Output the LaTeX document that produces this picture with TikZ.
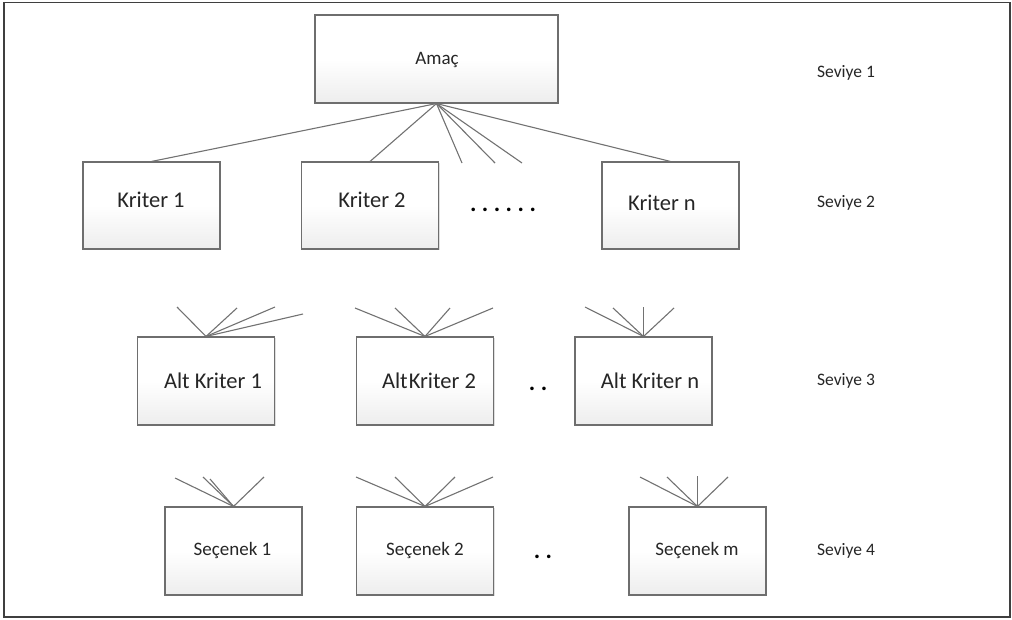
\documentclass[tikz,border=0pt]{standalone}
\usepackage{fontspec}
\setmainfont{Carlito}
\usetikzlibrary{shadows}
\definecolor{edge}{HTML}{6E6E6E}
\definecolor{wire}{HTML}{727272}
\definecolor{ink}{HTML}{262626}
\definecolor{frameline}{HTML}{3F3F3F}
\newcommand{\spdot}{\kern5.5pt.}
\tikzset{
  box/.style={draw=edge, line width=1.1pt, rectangle, inner sep=0pt,
    top color=white, bottom color=gray!14, middle color=white,
    drop shadow={opacity=0.25, shadow xshift=1.2pt, shadow yshift=-1.2pt},
    text=ink},
  goalbox/.style={box, minimum width=243pt, minimum height=88pt},
  critbox/.style={box, minimum width=137pt, minimum height=87pt},
  bigtxt/.style={font=\fontsize{22.5}{26}\selectfont},
  midtxt/.style={font=\fontsize{19}{23}\selectfont},
  lvltxt/.style={font=\fontsize{17.5}{21}\selectfont, text=ink, inner sep=0pt},
  dotstxt/.style={font=\bfseries\fontsize{24}{28}\selectfont, text=black, inner sep=0pt},
  wirestyle/.style={draw=wire, line width=1.1pt},
  plain/.style={inner sep=0pt, text=ink}
}
\begin{document}
\begin{tikzpicture}[x=1pt,y=-1pt]
  \useasboundingbox (0,0) rectangle (1012,619);
  % outer frame
  \draw[frameline, line width=1.6pt] (4,2.5) rectangle (1010,617);

  % level 1
  \node[goalbox] (amac) at (436.5,59) {};
  \node[plain, midtxt] (amactxt) at (437,60) {Amaç};

  % level 2
  \node[critbox] (k1) at (151.5,205.5) {};
  \node[critbox] (k2) at (370,205.5) {};
  \node[critbox] (kn) at (670.5,205.5) {};
  \node[plain, bigtxt] (k1t) at (151,200) {Kriter 1};
  \node[plain, bigtxt] (k2t) at (372,200) {Kriter 2};
  \node[plain, bigtxt] (knt) at (662,203) {Kriter n};
  \node[dotstxt] (dots2) at (503,210) {.\spdot\spdot\spdot\spdot\spdot};

  % level 3
  \node[critbox, minimum height=88pt] (a1) at (206,381) {};
  \node[critbox, minimum height=88pt] (a2) at (425,381) {};
  \node[critbox, minimum height=88pt] (an) at (643.5,381) {};
  \node[plain, bigtxt] (a1t) at (213,381) {Alt\hspace{5pt}Kriter 1};
  \node[plain, bigtxt] (a2t) at (429,381) {Alt\hspace{1pt}Kriter 2};
  \node[plain, bigtxt] (ant) at (650,381) {Alt\hspace{5pt}Kriter n};
  \node[dotstxt] (dots3) at (538,389) {.\spdot};

  % level 4
  \node[critbox, minimum height=88pt] (s1) at (233.5,551) {};
  \node[critbox, minimum height=88pt] (s2) at (425,551) {};
  \node[critbox, minimum height=88pt] (sm) at (697.5,551) {};
  \node[plain, midtxt] (s1t) at (232.5,550) {Seçenek 1};
  \node[plain, midtxt] (s2t) at (425,550) {Seçenek 2};
  \node[plain, midtxt] (smt) at (697,550) {Seçenek m};
  \node[dotstxt] (dots4) at (543,557) {.\spdot};

  % level labels
  \node[lvltxt] (lv1) at (846,73) {Seviye 1};
  \node[lvltxt] (lv2) at (846,203) {Seviye 2};
  \node[lvltxt] (lv3) at (846,381) {Seviye 3};
  \node[lvltxt] (lv4) at (846,551) {Seviye 4};

  % free ends of the fan lines
  \coordinate (g1) at (462,163);
  \coordinate (g2) at (495,163);
  \coordinate (g3) at (522,163);

  \coordinate (p11) at (177,307);
  \coordinate (p12) at (237,308);
  \coordinate (p13) at (275,307);
  \coordinate (p14) at (303,314);

  \coordinate (p21) at (355,308);
  \coordinate (p22) at (395,308);
  \coordinate (p23) at (450,308);
  \coordinate (p24) at (493,308);

  \coordinate (pn1) at (585,307);
  \coordinate (pn2) at (613,308);
  \coordinate (pn3) at (643.5,307);
  \coordinate (pn4) at (674,308);

  \coordinate (q11) at (175,478);
  \coordinate (q12) at (203,477);
  \coordinate (q13) at (210,479);
  \coordinate (q14) at (264,477);

  \coordinate (q21) at (356,477);
  \coordinate (q22) at (395,477);
  \coordinate (q23) at (455,477);
  \coordinate (q24) at (493,477);

  \coordinate (qm1) at (640,477);
  \coordinate (qm2) at (667,477);
  \coordinate (qm3) at (697.5,476);
  \coordinate (qm4) at (728,477);

  % goal to criteria
  \draw[wirestyle] (amac.south) -- (k1.north);
  \draw[wirestyle] (amac.south) -- (k2.north);
  \draw[wirestyle] (amac.south) -- (kn.north);
  \foreach \c in {g1,g2,g3} \draw[wirestyle] (amac.south) -- (\c);

  % sub-criteria fans
  \foreach \c in {p11,p12,p13,p14} \draw[wirestyle] (a1.north) -- (\c);
  \foreach \c in {p21,p22,p23,p24} \draw[wirestyle] (a2.north) -- (\c);
  \foreach \c in {pn1,pn2,pn3,pn4} \draw[wirestyle] (an.north) -- (\c);

  % alternative fans
  \foreach \c in {q11,q12,q13,q14} \draw[wirestyle] (s1.north) -- (\c);
  \foreach \c in {q21,q22,q23,q24} \draw[wirestyle] (s2.north) -- (\c);
  \foreach \c in {qm1,qm2,qm3,qm4} \draw[wirestyle] (sm.north) -- (\c);
\end{tikzpicture}
\end{document}
